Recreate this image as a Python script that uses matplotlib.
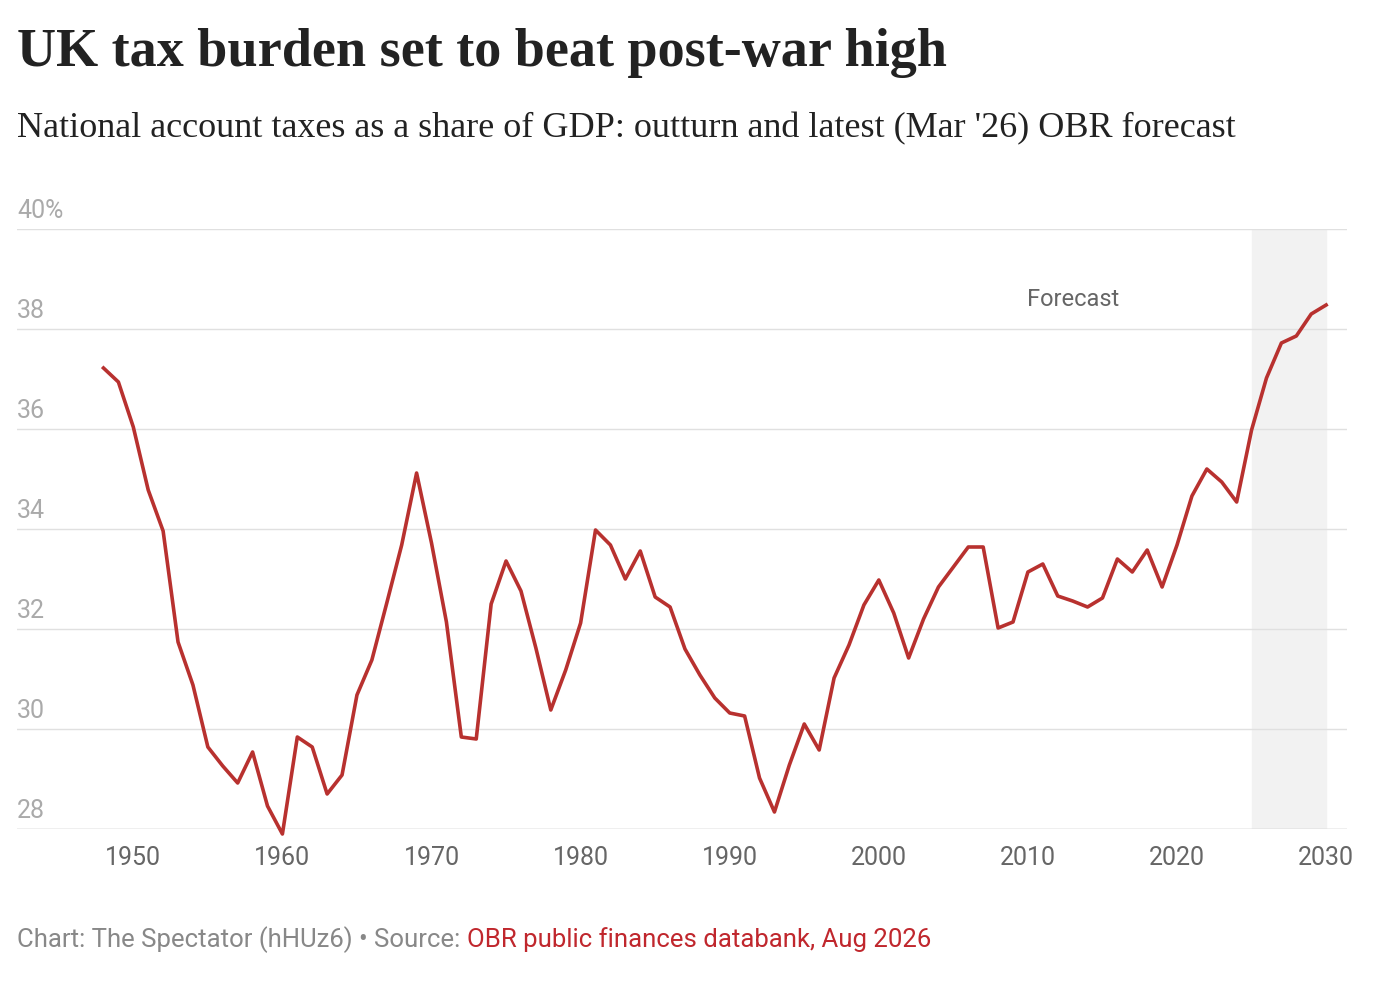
import matplotlib.pyplot as plt
import matplotlib.transforms as mtransforms

years = list(range(1948, 2031))
tax_share = [
    37.22, 36.94, 36.04, 34.78, 33.96, 31.74, 30.88, 29.64, 29.26, 28.92,
    29.54, 28.46, 27.90, 29.84, 29.64, 28.70, 29.08, 30.68, 31.38, 32.52,
    33.68, 35.12, 33.72, 32.14, 29.84, 29.80, 32.50, 33.36, 32.76, 31.62,
    30.38, 31.18, 32.12, 33.98, 33.68, 33.00, 33.56, 32.64, 32.44, 31.60,
    31.08, 30.62, 30.32, 30.26, 29.02, 28.34, 29.28, 30.10, 29.58, 31.02,
    31.68, 32.48, 32.98, 32.32, 31.42, 32.20, 32.84, 33.24, 33.64, 33.64,
    32.02, 32.14, 33.14, 33.30, 32.66, 32.56, 32.44, 32.62, 33.40, 33.14,
    33.58, 32.84, 33.68, 34.66, 35.20, 34.94, 34.54, 35.98, 37.02, 37.72,
    37.86, 38.30, 38.48,
]
forecast_start, forecast_end = 2025, 2030
y_ticks = [28, 30, 32, 34, 36, 38, 40]
y_labels = ["28", "30", "32", "34", "36", "38", "40%"]
x_ticks = [1950, 1960, 1970, 1980, 1990, 2000, 2010, 2020, 2030]

fig = plt.figure(figsize=(13.86, 9.84), dpi=100)
ax = fig.add_axes([17 / 1386, 1 - 829 / 984, 1330 / 1386, 600 / 984])

ax.axvspan(forecast_start, forecast_end, color="#f2f2f2", zorder=0)
for yt in y_ticks:
    ax.axhline(yt, color="#e0e0e0", lw=1, zorder=1)
ax.plot(years, tax_share, color="#b8312f", lw=2.6, zorder=3, clip_on=False,
        solid_joinstyle="round")

ax.set_xlim(1942.2, 2031.4)
ax.set_ylim(28, 40)
for s in ax.spines.values():
    s.set_visible(False)
ax.set_yticks([])
ax.set_xticks(x_ticks)
ax.set_xticklabels([str(x) for x in x_ticks], fontsize=18, color="#666666",
                   family="Roboto")
ax.tick_params(axis="x", length=0, pad=12)
ax.axhline(28, color="#cccccc", lw=1, zorder=2)

trans = mtransforms.blended_transform_factory(ax.transAxes, ax.transData)
for yt, lab in zip(y_ticks, y_labels):
    ax.text(0, yt + 0.12, lab, transform=trans, fontsize=18, color="#aaaaaa",
            family="Roboto", va="bottom", ha="left")

ax.text(2016.1, 38.58, "Forecast", fontsize=17, color="#666666",
        family="Roboto", ha="right", va="center")

fig.text(17 / 1386, 1 - 53 / 984, "UK tax burden set to beat post-war high",
         fontsize=39, fontweight="bold", family="Liberation Serif",
         color="#222222", va="center")
fig.text(17 / 1386, 1 - 129 / 984,
         "National account taxes as a share of GDP: outturn and latest (Mar '26) OBR forecast",
         fontsize=26, family="Liberation Serif", color="#222222", va="center")
t1 = fig.text(17 / 1386, 1 - 940 / 984, "Chart: The Spectator (hHUz6) \u2022 Source: ",
              fontsize=18.5, family="Roboto", color="#888888", va="center")
fig.canvas.draw()
bb = t1.get_window_extent().transformed(fig.transFigure.inverted())
fig.text(bb.x1, 1 - 940 / 984, "OBR public finances databank, Aug 2026",
         fontsize=18.5, family="Roboto", color="#c0272d", va="center")

fig.savefig("out.png", dpi=100)
